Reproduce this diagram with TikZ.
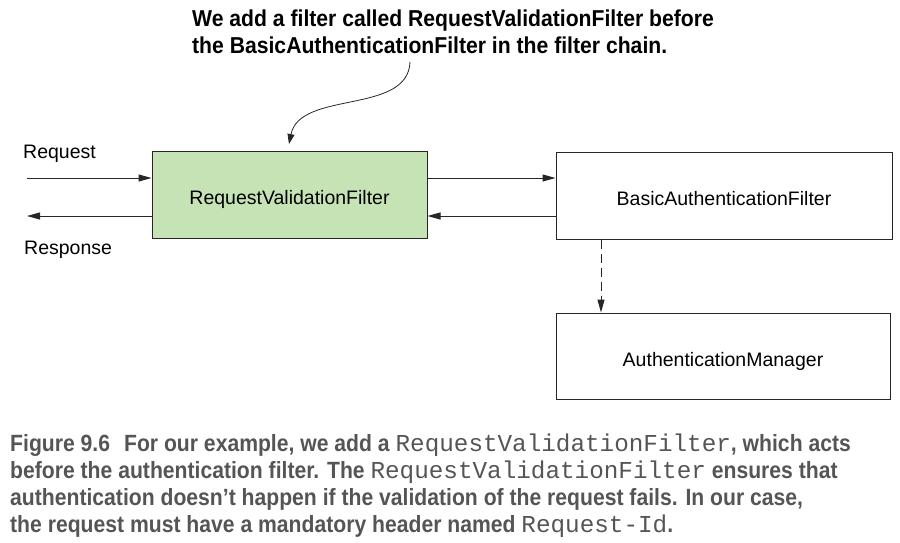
\documentclass[tikz,border=0pt]{standalone}
\usepackage{fontspec}
\setmainfont{Liberation Sans}
\setmonofont{Liberation Mono}
\newfontfamily\notefont[FakeStretch=0.92]{Liberation Sans}
\newfontfamily\capfont[FakeStretch=0.9]{Liberation Sans}
\newcommand\code[1]{{\ttfamily\mdseries\fontsize{24.3}{27}\selectfont #1}}
\usetikzlibrary{arrows.meta}
\definecolor{filtergreen}{HTML}{C5E3B5}
\definecolor{capgray}{HTML}{555555}
\tikzset{
  box/.style={draw=black!85, line width=1pt, minimum height=87pt, inner sep=0pt, text height=20pt, text depth=0pt, font=\fontsize{19.5}{22}\selectfont},
  lbl/.style={inner sep=0pt, font=\fontsize{19.5}{22}\selectfont},
  arr/.style={-{Triangle[length=13pt,width=7pt]}, line width=1pt, black!85},
}

\begin{document}
\begin{tikzpicture}[x=1pt,y=-1pt]
	\useasboundingbox (0,0) rectangle (900,542);

	\node[box, fill=filtergreen, minimum width=275pt] (rvf) at (289.5,194.5) {RequestValidationFilter};
	\node[box, minimum width=336pt] (baf) at (724,195.5) {BasicAuthenticationFilter};
	\node[box, minimum width=334pt, minimum height=86pt] (am) at (723,356) {AuthenticationManager};

	\coordinate (reqin) at (27,178);
	\coordinate (respout) at (27,216);
	\coordinate (fwd) at (0,178);
	\coordinate (back) at (0,216);
	\coordinate (drop) at (601,0);

	\node[lbl, anchor=base west] (req) at (23,158) {Request};
	\node[lbl, anchor=base west] (resp) at (24,254) {Response};

	\draw[arr] (reqin) -- (rvf.west |- reqin);
	\draw[arr] (rvf.west |- respout) -- (respout);
	\draw[arr] (rvf.east |- fwd) -- (baf.west |- fwd);
	\draw[arr] (baf.west |- back) -- (rvf.east |- back);
	\draw[arr, dash pattern=on 9pt off 5pt] (baf.south -| drop) -- (am.north -| drop);

	\node[inner sep=0pt, anchor=north west, align=left, font=\notefont\bfseries\fontsize{23}{27}\selectfont] (note) at (192,10)
		{We add a filter called RequestValidationFilter before\\the BasicAuthenticationFilter in the filter chain.};
	\coordinate (notefrom) at (410,62);
	\coordinate (noteto) at (289,144);
	\draw[arr, line width=0.8pt, -{Triangle[length=10pt,width=7pt]}] (notefrom) .. controls (408,115) and (300,90) .. (noteto);

	\node[inner sep=0pt, anchor=north west, align=left, text=capgray, font=\capfont\bfseries\fontsize{23.5}{27}\selectfont] (caption) at (10,434)
		{Figure 9.6\hspace{14pt}For our example, we add a \code{RequestValidationFilter}, which acts\\
		before the authentication filter. The \code{RequestValidationFilter} ensures that\\
		authentication doesn’t happen if the validation of the request fails. In our case,\\
		the request must have a mandatory header named \code{Request-Id}.};
\end{tikzpicture}
\end{document}
